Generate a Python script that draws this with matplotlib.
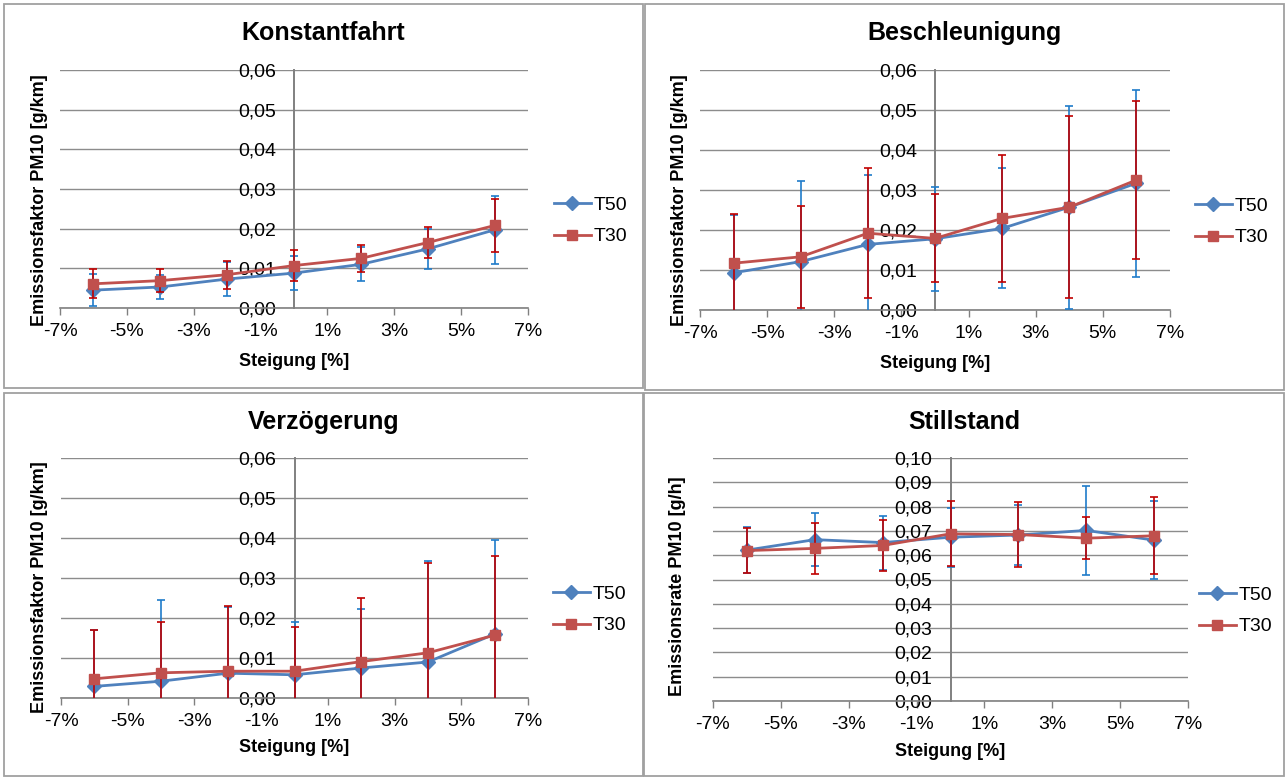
import matplotlib
matplotlib.use("Agg")
import matplotlib.pyplot as plt
from matplotlib.patches import Rectangle
from matplotlib.ticker import FuncFormatter, FixedLocator
import numpy as np

plt.rcParams["font.family"] = ["Liberation Sans", "DejaVu Sans"]

# Steigung [%]
grade = [-6, -4, -2, 0, 2, 4, 6]
series_names = ["T50", "T30"]

# Konstantfahrt, PM10 [g/km]
konst_t50 = [0.0045, 0.0053, 0.0073, 0.0088, 0.0110, 0.0149, 0.0197]
konst_t50_err = [0.0041, 0.0031, 0.0042, 0.0042, 0.0043, 0.0051, 0.0085]
konst_t30 = [0.0061, 0.0069, 0.0084, 0.0107, 0.0125, 0.0165, 0.0208]
konst_t30_err = [0.0037, 0.0029, 0.0035, 0.0040, 0.0033, 0.0039, 0.0067]

# Beschleunigung, PM10 [g/km]
besch_t50 = [0.0093, 0.0121, 0.0164, 0.0178, 0.0204, 0.0257, 0.0317]
besch_t50_err = [0.0145, 0.0202, 0.0174, 0.0130, 0.0150, 0.0254, 0.0234]
besch_t30 = [0.0117, 0.0133, 0.0192, 0.0179, 0.0229, 0.0257, 0.0325]
besch_t30_err = [0.0122, 0.0127, 0.0163, 0.0110, 0.0158, 0.0227, 0.0197]

# Verzoegerung, PM10 [g/km]
verz_t50 = [0.0029, 0.0042, 0.0062, 0.0058, 0.0075, 0.0090, 0.0160]
verz_t50_err = [0.0140, 0.0202, 0.0165, 0.0132, 0.0148, 0.0253, 0.0236]
verz_t30 = [0.0048, 0.0063, 0.0067, 0.0067, 0.0091, 0.0113, 0.0157]
verz_t30_err = [0.0122, 0.0128, 0.0163, 0.0110, 0.0159, 0.0225, 0.0197]

# Stillstand, PM10 [g/h]
still_t50 = [0.0621, 0.0664, 0.0652, 0.0674, 0.0683, 0.0702, 0.0662]
still_t50_err = [0.0095, 0.0109, 0.0111, 0.0121, 0.0124, 0.0184, 0.0161]
still_t30 = [0.0619, 0.0628, 0.0640, 0.0688, 0.0685, 0.0670, 0.0680]
still_t30_err = [0.0094, 0.0105, 0.0104, 0.0134, 0.0132, 0.0086, 0.0158]

x_ticks = [-7, -5, -3, -1, 1, 3, 5, 7]

W, H = 1287, 778
fig = plt.figure(figsize=(W / 100, H / 100), dpi=100)

LINE_BLUE = "#4F81BD"
LINE_RED = "#C0504D"
ERR_BLUE = "#1F7BC9"
ERR_RED = "#C00000"
GRID = "#8C8C8C"
AXIS = "#808080"


def px_axes(x0, y0, x1, y1):
    return fig.add_axes([x0 / W, 1 - y1 / H, (x1 - x0) / W, (y1 - y0) / H])


def frame(x0, y0, x1, y1):
    fig.patches.append(Rectangle((x0 / W, 1 - y1 / H), (x1 - x0) / W, (y1 - y0) / H,
                                 transform=fig.transFigure, fill=False,
                                 edgecolor="#A0A0A0", linewidth=1.3))


panels = [
    dict(title="Konstantfahrt", box=(4, 4, 643, 388), ax=(60, 70, 528, 308),
         ylabel="Emissionsfaktor PM10 [g/km]", ymax=0.06,
         t50=konst_t50, t50e=konst_t50_err, t30=konst_t30, t30e=konst_t30_err,
         title_y=33, ylab=(40, 200), xlab_y=362, leg=(554, 221)),
    dict(title="Beschleunigung", box=(645, 4, 1284, 390), ax=(700, 70, 1170, 310),
         ylabel="Emissionsfaktor PM10 [g/km]", ymax=0.06,
         t50=besch_t50, t50e=besch_t50_err, t30=besch_t30, t30e=besch_t30_err,
         title_y=33, ylab=(680, 200), xlab_y=363, leg=(1195, 222)),
    dict(title="Verzögerung", box=(4, 393, 643, 776), ax=(61, 458, 528, 698),
         ylabel="Emissionsfaktor PM10 [g/km]", ymax=0.06,
         t50=verz_t50, t50e=verz_t50_err, t30=verz_t30, t30e=verz_t30_err,
         title_y=422, ylab=(40, 587), xlab_y=748, leg=(553, 610)),
    dict(title="Stillstand", box=(644, 393, 1284, 776), ax=(713, 458, 1188, 701),
         ylabel="Emissionsrate PM10 [g/h]", ymax=0.10,
         t50=still_t50, t50e=still_t50_err, t30=still_t30, t30e=still_t30_err,
         title_y=422, ylab=(678, 586), xlab_y=752, leg=(1199, 611)),
]

for p in panels:
    frame(*p["box"])
    x0, y0, x1, y1 = p["ax"]
    ax = px_axes(x0, y0, x1, y1)
    ax.set_xlim(-7, 7)
    ax.set_ylim(0, p["ymax"])

    yt = np.round(np.arange(0, p["ymax"] + 1e-9, 0.01), 2)
    ax.yaxis.set_major_locator(FixedLocator(yt))
    ax.xaxis.set_major_locator(FixedLocator(x_ticks))
    ax.yaxis.set_major_formatter(FuncFormatter(lambda v, _: f"{v:.2f}".replace(".", ",")))
    ax.xaxis.set_major_formatter(FuncFormatter(lambda v, _: f"{v:.0f}%"))

    ax.grid(axis="y", color=GRID, linewidth=1.0, zorder=0)
    ax.set_axisbelow(True)
    for s in ("top", "right"):
        ax.spines[s].set_visible(False)
    ax.spines["left"].set_position(("data", 0))
    ax.spines["left"].set_color(AXIS)
    ax.spines["left"].set_linewidth(1.4)
    ax.spines["bottom"].set_color(AXIS)
    ax.spines["bottom"].set_linewidth(1.2)
    ax.tick_params(axis="y", length=0, pad=13, labelsize=14, labelcolor="black")
    ax.tick_params(axis="x", length=5, width=1.0, color=AXIS, direction="out",
                   pad=6, labelsize=14, labelcolor="black")

    ax.errorbar(grade, p["t50"], yerr=p["t50e"], color=LINE_BLUE, ecolor=ERR_BLUE,
                elinewidth=1.2, capsize=3, capthick=1.2, linewidth=2.0,
                marker="D", markersize=7, markeredgecolor=LINE_BLUE,
                label=series_names[0], zorder=3)
    ax.errorbar(grade, p["t30"], yerr=p["t30e"], color=LINE_RED, ecolor=ERR_RED,
                elinewidth=1.2, capsize=3, capthick=1.2, linewidth=2.0,
                marker="s", markersize=7.5, markeredgecolor=LINE_RED,
                label=series_names[1], zorder=4)

    # titles and axis labels
    cx = (p["box"][0] + p["box"][2]) / 2
    fig.text(cx / W, 1 - p["title_y"] / H, p["title"], ha="center", va="center",
             fontsize=18, fontweight="bold")
    ax.set_xlabel("Steigung [%]", fontsize=13, fontweight="bold", va="center")
    ax.xaxis.set_label_coords(0.5, (y1 - p["xlab_y"]) / (y1 - y0))
    ax.set_ylabel(p["ylabel"], fontsize=13, fontweight="bold", va="center")
    ax.yaxis.set_label_coords((p["ylab"][0] - x0) / (x1 - x0), (y1 - p["ylab"][1]) / (y1 - y0))

    handles, labels = ax.get_legend_handles_labels()
    handles = [h[0] for h in handles]
    ax.legend(handles, labels, loc="center left",
              bbox_to_anchor=(p["leg"][0] / W, 1 - p["leg"][1] / H),
              bbox_transform=fig.transFigure, frameon=False, fontsize=14,
              handlelength=1.9, handletextpad=0.15, labelspacing=0.7,
              borderpad=0, borderaxespad=0)

fig.savefig("out.png", dpi=100)
